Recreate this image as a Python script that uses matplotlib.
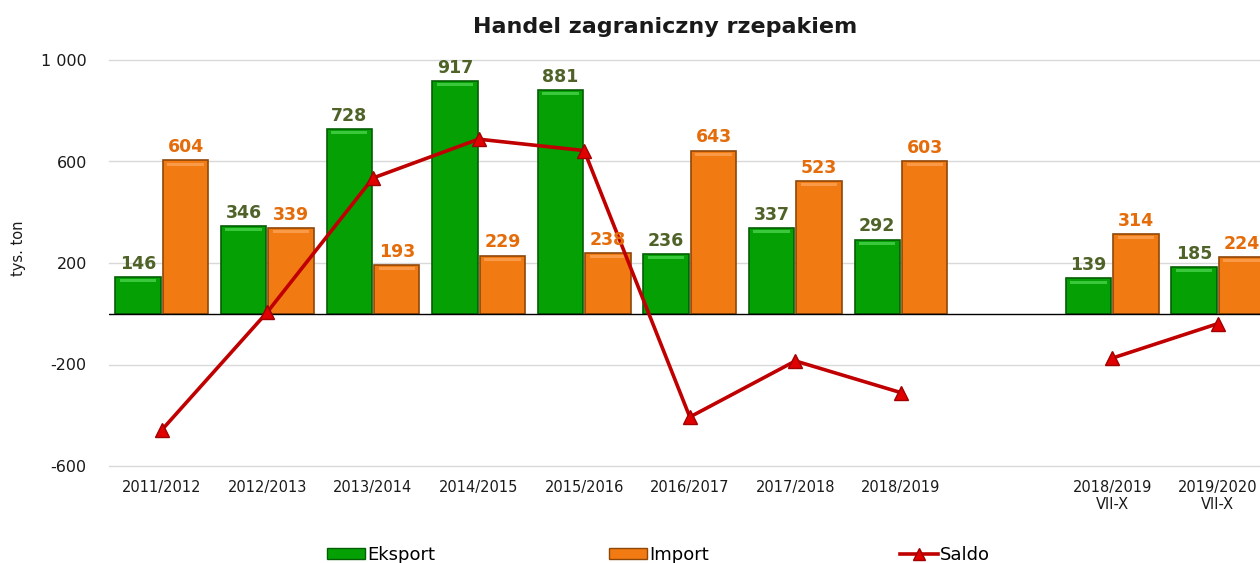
import matplotlib
matplotlib.use("Agg")
import matplotlib.pyplot as plt
import numpy as np
from matplotlib.lines import Line2D
from matplotlib.patches import Patch

categories = ["2011/2012", "2012/2013", "2013/2014", "2014/2015", "2015/2016",
              "2016/2017", "2017/2018", "2018/2019", "", "2018/2019\nVII-X",
              "2019/2020\nVII-X"]
eksport = [146, 346, 728, 917, 881, 236, 337, 292, np.nan, 139, 185]
import_ = [604, 339, 193, 229, 238, 643, 523, 603, np.nan, 314, 224]
saldo = [-458, 7, 535, 688, 643, -407, -186, -311, np.nan, -175, -39]
yticks = [-600, -200, 200, 600, 1000]
ytick_labels = ["-600", "-200", "200", "600", "1 000"]

GREEN = "#04a004"
GREEN_EDGE = "#045f04"
ORANGE = "#f27a12"
ORANGE_EDGE = "#8f4708"
RED = "#c00000"
GREEN_TXT = "#4f6228"
ORANGE_TXT = "#e46c0a"
INK = "#1a1a1a"

plt.rcParams["font.family"] = ["DejaVu Sans"]

fig = plt.figure(figsize=(12.6, 5.63), dpi=100)
ax = fig.add_axes([109 / 1260, 97 / 563, 11 * 105.6 / 1260, 406 / 563])

x = np.arange(len(categories))
w = 0.43
off = 0.225
ax.bar(x - off, eksport, w, color=GREEN, edgecolor=GREEN_EDGE, linewidth=1.2, zorder=2)
ax.bar(x + off, import_, w, color=ORANGE, edgecolor=ORANGE_EDGE, linewidth=1.2, zorder=2)
# light bevel strip along the top of each bar
ax.bar(x - off, [12 if v == v else np.nan for v in eksport], w * 0.8,
       bottom=[v - 20 for v in eksport], color="#3cc83c", linewidth=0, zorder=2.5)
ax.bar(x + off, [12 if v == v else np.nan for v in import_], w * 0.8,
       bottom=[v - 20 for v in import_], color="#f89a48", linewidth=0, zorder=2.5)

for xi, v in zip(x, eksport):
    if v == v:
        ax.annotate(f"{v:.0f}", (xi - off, v), xytext=(0, 3), textcoords="offset points",
                    ha="center", va="bottom", fontsize=12.5, fontweight="bold", color=GREEN_TXT, zorder=5)
for xi, v in zip(x, import_):
    if v == v:
        ax.annotate(f"{v:.0f}", (xi + off, v), xytext=(0, 3), textcoords="offset points",
                    ha="center", va="bottom", fontsize=12.5, fontweight="bold", color=ORANGE_TXT, zorder=5)

ax.plot(x, saldo, color=RED, linewidth=2.6, marker="^", markersize=10,
        markerfacecolor="#e00000", markeredgecolor="#a00000", zorder=4)

ax.axhline(0, color="black", linewidth=1, zorder=3)
ax.set_ylim(-600, 1000)
ax.set_xlim(-0.5, len(categories) - 0.5)
ax.set_yticks(yticks)
ax.set_yticklabels(ytick_labels)
ax.set_xticks(x)
ax.set_xticklabels(categories)
ax.grid(axis="y", color="#d9d9d9", linewidth=1, zorder=0)
for gl in ax.get_ygridlines():
    gl.set_clip_on(False)
ax.set_axisbelow(True)
ax.tick_params(axis="y", length=0, pad=16, labelsize=11.5, colors=INK)
ax.tick_params(axis="x", length=0, pad=10, labelsize=10.5, colors=INK)
for s in ax.spines.values():
    s.set_visible(False)

fig.text(18 / 1260, 1 - 248 / 563, "tys. ton", rotation=90, ha="center", va="center",
         fontsize=10.5, color=INK)
fig.text(665 / 1260, 1 - 27 / 563, "Handel zagraniczny rzepakiem", ha="center", va="center",
         fontsize=16, fontweight="bold", color=INK)

legend_items = [
    (Patch(facecolor=GREEN, edgecolor=GREEN_EDGE), "Eksport", 322),
    (Patch(facecolor=ORANGE, edgecolor=ORANGE_EDGE), "Import", 604),
    (Line2D([], [], color=RED, linewidth=2.6, marker="^", markersize=8,
            markerfacecolor="#e00000", markeredgecolor="#a00000"), "Saldo", 895),
]
for handle, label, px in legend_items:
    leg = fig.legend([handle], [label], loc="center left",
                     bbox_to_anchor=(px / 1260, 1 - 555 / 563), frameon=False,
                     fontsize=13, handlelength=2.1, handleheight=0.55,
                     handletextpad=0.1, borderaxespad=0, borderpad=0.3)

fig.savefig("out.png", dpi=100)
